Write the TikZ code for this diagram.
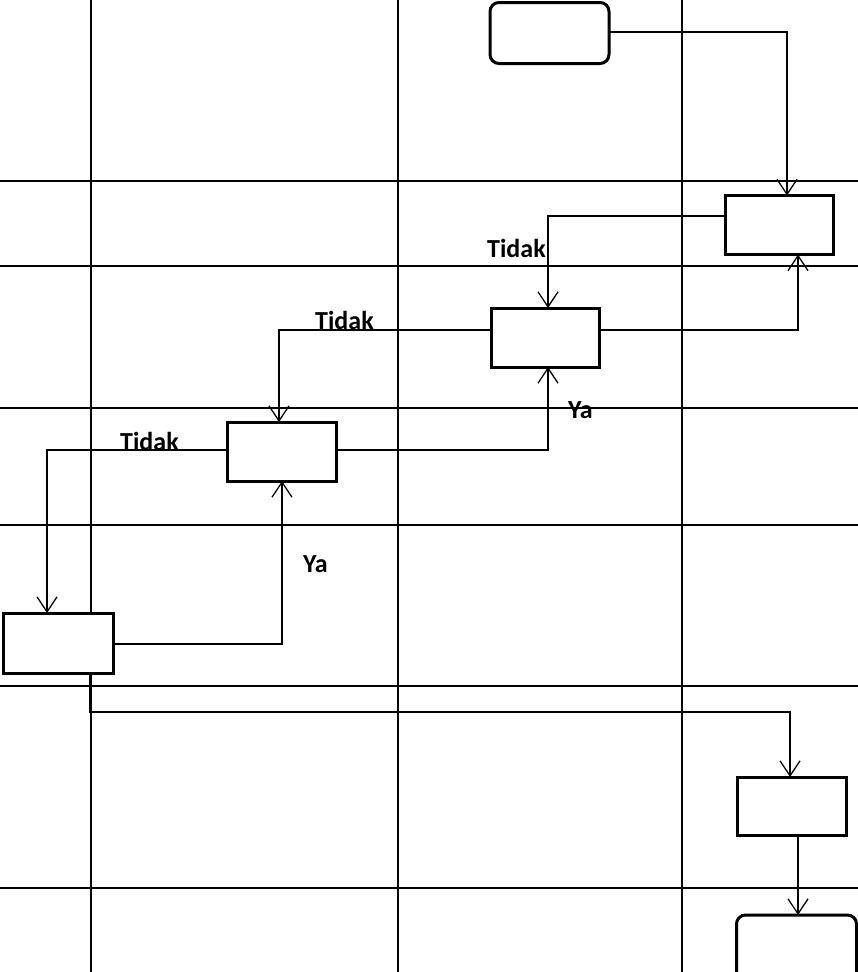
\documentclass[tikz,border=0pt]{standalone}
\usepackage{fontspec}
\setmainfont{Carlito}
\usetikzlibrary{arrows.meta}
\tikzset{
  gridline/.style={line width=1.7pt},
  procbox/.style={draw, line width=3pt, inner sep=0pt, outer sep=0pt},
  termbox/.style={draw, line width=3pt, inner sep=0pt, outer sep=0pt, rounded corners=9pt},
  flow/.style={line width=1.3pt, -{Straight Barb[length=15pt,width=20pt,line width=1.3pt]}},
  lbl/.style={font=\fontsize{26}{30}\selectfont\bfseries, inner sep=0pt, anchor=base west}
}
\begin{document}
\begin{tikzpicture}[x=1pt,y=-1pt]
\useasboundingbox (0,0) rectangle (858,972);
\clip (0,0) rectangle (858,972);
% grid
\foreach \gx in {91,398,682} \draw[gridline] (\gx,0) -- (\gx,972);
\foreach \gy in {181,266,408,525,686,888} \draw[gridline] (0,\gy) -- (858,\gy);
% nodes
\node[termbox, minimum width=119pt, minimum height=61pt, fill=white] (start) at (549.5,33) {};
\node[procbox, minimum width=108pt, minimum height=59pt, fill=white] (b1) at (779.5,225) {};
\node[procbox, minimum width=108pt, minimum height=59pt, fill=white] (b2) at (545,337.5) {};
\node[procbox, minimum width=109pt, minimum height=59pt, fill=white] (b3) at (281.5,451.5) {};
\node[procbox, minimum width=110pt, minimum height=60pt, fill=white] (b4) at (58,643) {};
\node[procbox, minimum width=109pt, minimum height=58pt, fill=white] (b5) at (791.5,806) {};
\node[termbox, minimum width=120pt, minimum height=70pt, fill=white] (endn) at (796.5,950) {};
% connectors
\draw[flow] ([yshift=1pt]start.east) -| ([xshift=7.5pt]b1.north);
\draw[flow] ([yshift=9pt]b1.west) -| ([xshift=3pt]b2.north);
\draw[flow] ([yshift=7.5pt]b2.east) -| ([xshift=18.5pt]b1.south);
\draw[flow] ([yshift=7.5pt]b2.west) -| ([xshift=-2.5pt]b3.north);
\draw[flow] ([yshift=1.5pt]b3.east) -| ([xshift=3pt]b2.south);
\draw[flow] ([yshift=1.5pt]b3.west) -| ([xshift=-11pt]b4.north);
\draw[flow] ([yshift=-1pt]b4.east) -| ([xshift=0.5pt]b3.south);
\draw[flow] ([xshift=32pt]b4.south) -- ++(0,39) -| ([xshift=-1.5pt]b5.north);
\draw[flow] ([xshift=6.5pt]b5.south) -- ([xshift=1.5pt]endn.north);
% labels
\node[lbl] (t1) at (487,257) {Tidak};
\node[lbl] (t2) at (315,329) {Tidak};
\node[lbl] (t3) at (120,450) {Tidak};
\node[lbl] (y1) at (568,418) {Ya};
\node[lbl] (y2) at (303,572) {Ya};
\end{tikzpicture}
\end{document}
